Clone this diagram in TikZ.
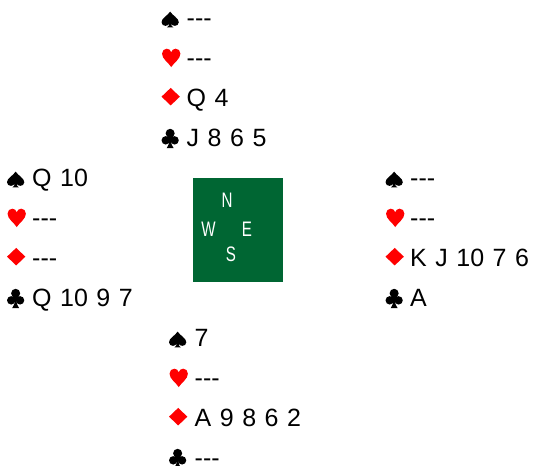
\documentclass[tikz,border=0pt]{standalone}
\usepackage{fontspec}
\setmainfont{Liberation Sans}
\definecolor{feltgreen}{RGB}{0,102,51}
\definecolor{suitred}{RGB}{255,0,0}
\newcommand{\Void}{-{}-{}-}
\tikzset{
  spadesym/.pic={\fill[black,shift={(0,-13.8)}]
    (8,0) .. controls (6,3.5) and (0,6) .. (0,9.8)
    .. controls (0,12) and (1.7,13.2) .. (3.6,13.2)
    .. controls (5.3,13.2) and (6.6,12.3) .. (7.2,11)
    .. controls (7.1,12.8) and (6.4,14) .. (5,14.6) -- (11,14.6)
    .. controls (9.6,14) and (8.9,12.8) .. (8.8,11)
    .. controls (9.4,12.3) and (10.7,13.2) .. (12.4,13.2)
    .. controls (14.3,13.2) and (16,12) .. (16,9.8)
    .. controls (16,6) and (10,3.5) .. (8,0) -- cycle;},
  heartsym/.pic={\fill[suitred,shift={(0.5,-16.5)}]
    (8.5,17) .. controls (6,13) and (0,9.5) .. (0,4.6)
    .. controls (0,1.8) and (2,0) .. (4.4,0)
    .. controls (6.5,0) and (8,1.4) .. (8.5,3.4)
    .. controls (9,1.4) and (10.5,0) .. (12.6,0)
    .. controls (15,0) and (17,1.8) .. (17,4.6)
    .. controls (17,9.5) and (11,13) .. (8.5,17) -- cycle;},
  diamondsym/.pic={\fill[suitred,shift={(0,-17.2)}]
    (8.5,0) -- (17,8.1) -- (8.5,16.2) -- (0,8.1) -- cycle;},
  clubsym/.pic={
    \begin{scope}[shift={(0,-16.5)}]
    \fill[black] (8,4.3) circle (4.2pt);
    \fill[black] (3.9,10.8) circle (3.9pt);
    \fill[black] (12.1,10.8) circle (3.9pt);
    \fill[black] (8,5) -- (4,10.8) -- (12,10.8) -- cycle;
    \fill[black] (7.3,9.5) .. controls (7.2,13.5) and (6.5,16) .. (4.8,18)
      -- (11.2,18) .. controls (9.5,16) and (8.8,13.5) .. (8.7,9.5) -- cycle;
    \end{scope}},
  hand/.style={anchor=base west,inner sep=0pt,
    font=\fontsize{25}{27}\selectfont}
}
\newcommand{\handrow}[6]{%
  \pic[scale=1.08] at (#2,#4) {#5sym};
  \node[hand] (#1) at (#3,#4) {\spaceskip=8.5pt\relax #6};}
\begin{document}
\begin{tikzpicture}[x=1pt,y=-1pt,
  dir/.style={inner sep=0pt,text=white,font=\fontsize{21}{22}\selectfont}]
\useasboundingbox (0,0) rectangle (534,465);
% North
\handrow{n1}{161.5}{186.5}{26.5}{spade}{\Void}
\handrow{n2}{161.5}{186.5}{66.5}{heart}{\Void}
\handrow{n3}{161.5}{186.5}{106.5}{diamond}{Q 4}
\handrow{n4}{161.5}{186.5}{146.5}{club}{J 8 6 5}
% West
\handrow{w1}{7}{32}{186.5}{spade}{Q 10}
\handrow{w2}{7}{32}{226.5}{heart}{\Void}
\handrow{w3}{7}{32}{266.5}{diamond}{\Void}
\handrow{w4}{7}{32}{306.5}{club}{Q 10 9 7}
% East
\handrow{e1}{385.5}{410}{186.5}{spade}{\Void}
\handrow{e2}{385.5}{410}{226.5}{heart}{\Void}
\handrow{e3}{385.5}{410}{266.5}{diamond}{K J 10 7 6}
\handrow{e4}{385.5}{410}{306.5}{club}{A}
% South
\handrow{s1}{169}{194.5}{346.5}{spade}{7}
\handrow{s2}{169}{194.5}{386.5}{heart}{\Void}
\handrow{s3}{169}{194.5}{426.5}{diamond}{A 9 8 6 2}
\handrow{s4}{169}{194.5}{466.5}{club}{\Void}
% Compass
\fill[feltgreen] (193,178) rectangle (283,282);
\node[dir] (cN) at (227,200) {\scalebox{0.72}[1]{N}};
\node[dir] (cW) at (208.5,229) {\scalebox{0.72}[1]{W}};
\node[dir] (cE) at (247,229) {\scalebox{0.72}[1]{E}};
\node[dir] (cS) at (231,254) {\scalebox{0.72}[1]{S}};
\end{tikzpicture}
\end{document}
